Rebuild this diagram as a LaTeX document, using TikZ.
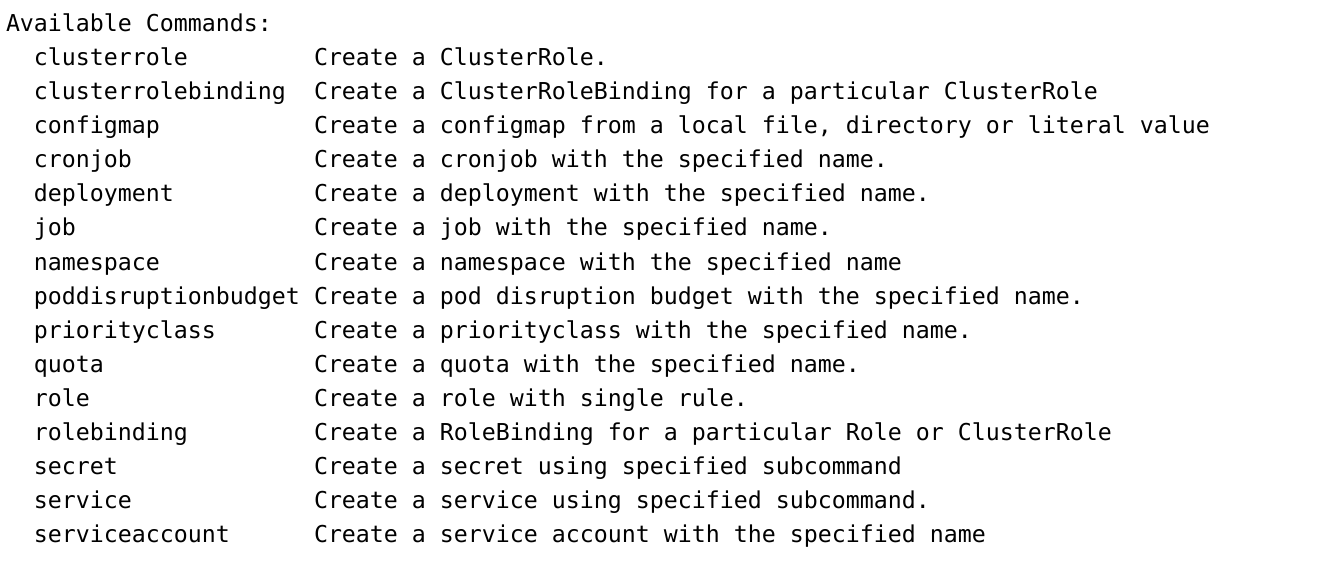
\documentclass[tikz,border=0pt]{standalone}
\usepackage{fontspec}
\setmonofont{DejaVu Sans Mono}
\usetikzlibrary{positioning}
\tikzset{
  term/.style={anchor=base west, inner sep=0pt, outer sep=0pt,
    font=\ttfamily\fontsize{23.25}{34}\selectfont, text=black}
}

\begin{document}
\begin{tikzpicture}[x=1pt, y=-1pt]
		%%%%% START %%%%%
		\useasboundingbox[fill=white] (0, 0) rectangle (1320, 564);
		
		\node[term] (head) at (6, 32) {Available Commands:};
		
		\foreach \i/\cmd/\desc in {
			1/clusterrole/{Create a ClusterRole.},
			2/clusterrolebinding/{Create a ClusterRoleBinding for a particular ClusterRole},
			3/configmap/{Create a configmap from a local file, directory or literal value},
			4/cronjob/{Create a cronjob with the specified name.},
			5/deployment/{Create a deployment with the specified name.},
			6/job/{Create a job with the specified name.},
			7/namespace/{Create a namespace with the specified name},
			8/poddisruptionbudget/{Create a pod disruption budget with the specified name.},
			9/priorityclass/{Create a priorityclass with the specified name.},
			10/quota/{Create a quota with the specified name.},
			11/role/{Create a role with single rule.},
			12/rolebinding/{Create a RoleBinding for a particular Role or ClusterRole},
			13/secret/{Create a secret using specified subcommand},
			14/service/{Create a service using specified subcommand.},
			15/serviceaccount/{Create a service account with the specified name}}
		{
			\node[term] (cmd\i) at (34, 32+34*\i) {\cmd};
			\node[term] (desc\i) at (314, 32+34*\i) {\desc};
		}
		%%%%% END %%%%%
	\end{tikzpicture}
\end{document}
